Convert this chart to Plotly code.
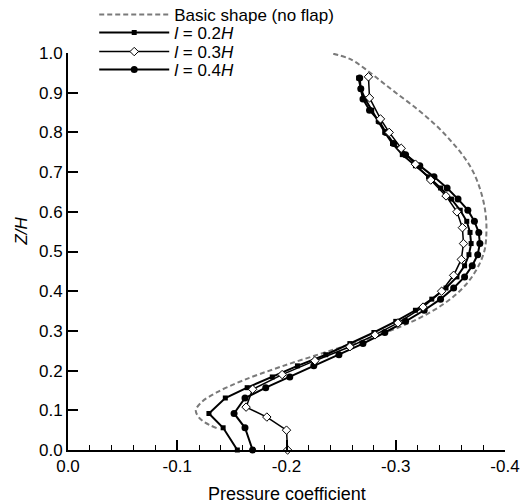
import plotly.graph_objects as go

# Heights (Z/H) and pressure coefficients for each configuration
basic_z = [0.055, 0.07, 0.085, 0.10, 0.12, 0.145, 0.175, 0.21, 0.25, 0.29, 0.33, 0.37,
           0.41, 0.45, 0.50, 0.55, 0.60, 0.65, 0.70, 0.74, 0.78, 0.82, 0.86, 0.90,
           0.93, 0.96, 0.985, 1.0]
basic_cp = [-0.136, -0.125, -0.119, -0.117, -0.122, -0.136, -0.160, -0.195, -0.240,
            -0.285, -0.320, -0.345, -0.362, -0.373, -0.381, -0.383, -0.382, -0.378,
            -0.371, -0.362, -0.350, -0.336, -0.319, -0.300, -0.286, -0.272, -0.258,
            -0.240]

tap_z = [0.0, 0.056, 0.092, 0.131, 0.157, 0.184, 0.212, 0.24, 0.268, 0.296, 0.324,
         0.352, 0.38, 0.408, 0.436, 0.464, 0.492, 0.52, 0.548, 0.576, 0.604, 0.632,
         0.66, 0.688, 0.716, 0.744, 0.772, 0.80, 0.828, 0.856, 0.884, 0.91, 0.937]

cp_02 = [-0.155, -0.142, -0.129, -0.144, -0.164, -0.187, -0.210, -0.236, -0.258,
         -0.280, -0.300, -0.318, -0.333, -0.346, -0.356, -0.363, -0.367, -0.369,
         -0.368, -0.365, -0.359, -0.351, -0.341, -0.330, -0.318, -0.306, -0.297,
         -0.290, -0.284, -0.278, -0.272, -0.268, -0.266]

cp_04 = [-0.169, -0.162, -0.152, -0.162, -0.181, -0.203, -0.225, -0.248, -0.270,
         -0.290, -0.309, -0.326, -0.341, -0.353, -0.363, -0.370, -0.375, -0.377,
         -0.376, -0.372, -0.366, -0.357, -0.347, -0.335, -0.322, -0.309, -0.298,
         -0.291, -0.285, -0.276, -0.270, -0.268, -0.267]

z_03 = [0.0, 0.05, 0.083, 0.108, 0.153, 0.19, 0.225, 0.26, 0.29, 0.32, 0.36, 0.40,
        0.44, 0.48, 0.52, 0.56, 0.60, 0.64, 0.68, 0.72, 0.76, 0.80, 0.834, 0.887, 0.94]
cp_03 = [-0.201, -0.200, -0.182, -0.163, -0.169, -0.196, -0.226, -0.258, -0.281,
         -0.302, -0.325, -0.342, -0.353, -0.360, -0.362, -0.361, -0.356, -0.346,
         -0.332, -0.318, -0.305, -0.294, -0.286, -0.276, -0.275]

x_tick_vals = [0.0, -0.1, -0.2, -0.3, -0.4]
x_tick_text = ["0.0", "-0.1", "-0.2", "-0.3", "-0.4"]
y_tick_vals = [0.0, 0.1, 0.2, 0.3, 0.4, 0.5, 0.6, 0.7, 0.8, 0.9, 1.0]

FONT = "Liberation Sans, Arial, sans-serif"

fig = go.Figure()

fig.add_trace(go.Scatter(
    x=basic_cp, y=basic_z, mode="lines", name="Basic shape (no flap)",
    line=dict(color="#7a7a7a", width=2, dash="5px,3px", shape="spline"),
    legend="legend",
))
fig.add_trace(go.Scatter(
    x=cp_04, y=tap_z, mode="lines+markers", name="<i>l</i> = 0.4<i>H</i>",
    line=dict(color="black", width=2),
    marker=dict(symbol="circle", size=7, color="black"),
    cliponaxis=False, legend="legend4",
))
fig.add_trace(go.Scatter(
    x=cp_02, y=tap_z, mode="lines+markers", name="<i>l</i> = 0.2<i>H</i>",
    line=dict(color="black", width=2),
    marker=dict(symbol="square", size=5, color="black"),
    cliponaxis=False, legend="legend2",
))
fig.add_trace(go.Scatter(
    x=cp_03, y=z_03, mode="lines+markers", name="<i>l</i> = 0.3<i>H</i>",
    line=dict(color="black", width=1.5),
    marker=dict(symbol="diamond", size=6.5, color="white",
                line=dict(color="black", width=1)),
    cliponaxis=False, legend="legend3",
))

legend_common = dict(
    x=0.06, xanchor="left", yanchor="middle", visible=True,
    bgcolor="rgba(0,0,0,0)", font=dict(family=FONT, size=17, color="black"),
    itemwidth=70, borderwidth=0,
)
fig.update_layout(
    showlegend=True,
    legend=dict(y=1.0957, **legend_common),
    legend2=dict(y=1.0504, **legend_common),
    legend3=dict(y=1.0025, **legend_common),
    legend4=dict(y=0.957, **legend_common),
)

fig.update_xaxes(
    range=[0, -0.4], tickvals=x_tick_vals, ticktext=x_tick_text,
    showgrid=False, zeroline=False, showline=True, linecolor="black", linewidth=2,
    ticks="inside", ticklen=10, tickwidth=2, tickcolor="black",
    minor=dict(dtick=0.02, ticks="inside", ticklen=5, tickwidth=1.2,
               tickcolor="black", showgrid=False),
    tickfont=dict(family=FONT, size=17, color="black"),
)
fig.update_yaxes(
    range=[0, 1.0], tickvals=y_tick_vals, tickformat=".1f",
    showgrid=False, zeroline=False, showline=True, linecolor="black", linewidth=2,
    ticks="inside", ticklen=10, tickwidth=2, tickcolor="black",
    tickfont=dict(family=FONT, size=17, color="black"),
)

fig.add_annotation(
    text="Pressure coefficient", xref="paper", yref="paper",
    x=0.5, y=-0.111, showarrow=False, yanchor="middle",
    font=dict(family=FONT, size=18, color="black"),
)
fig.add_annotation(
    text="<i>Z/H</i>", xref="paper", yref="paper",
    x=-0.132, y=0.552, showarrow=False, textangle=-90,
    font=dict(family=FONT, size=17, color="black"),
)

fig.update_layout(
    width=522, height=503,
    margin=dict(l=68, r=17, t=53, b=53, autoexpand=False),
    paper_bgcolor="white", plot_bgcolor="white",
    font=dict(family=FONT, size=17, color="black"),
)

fig.write_html("out.html")
